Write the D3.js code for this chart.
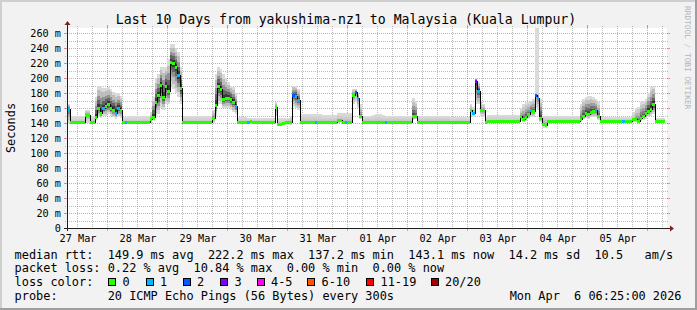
<!DOCTYPE html>
<html><head><meta charset="utf-8">
<script src="https://cdn.jsdelivr.net/npm/d3@7"></script>
<style>
html,body{margin:0;padding:0;background:#f2f2f2;overflow:hidden;}
svg{display:block;}
text{font-family:"DejaVu Sans Mono",monospace;white-space:pre;}
</style></head><body>
<svg id="c" width="697" height="310"></svg>
<script>
// ---------- data (1 value per hour, 240 hours, starting 27 Mar 08:00) ----------
const medianRtt = [
 159,141.5,141.5,141.5,141.5,141.5,141.5,151,151,141.5,141.5,148,160,153,160,163,165,160,158,154,160,158,141.5,141.5,
 141.5,141.5,141.5,141.5,141.5,141.5,141.5,141.5,141.5,146,148,168,177,191,175,190,183,222,220,215,204,187,141.5,141.5,
 141.5,141.5,141.5,141.5,141.5,141.5,141.5,141.5,141.5,141.5,147,164,189,185,172,174,174,172,168,163,141.5,141.5,141.5,141.5,
 141.5,143,141.5,141.5,141.5,140.8,140.8,140.8,140.8,140.8,140.8,161,138.7,138.7,140,141,142,142,177,176,171,142,142,142,
 142,142,142,142,142,142,142,142,142,142,142,142,143.5,143.5,142,142,142,142,177,181,173,150,142,142,
 142,142,142,142,142,142,142,142,142,142,142,142,142,142,142,142,142,142,149,150,142,142,142,142,
 142,142,142,142,142,142,142,142,142,142,142,142,142,142,142,142,142,157,154,196,183,157,157,142,
 143,143,143,143,143,143,143,143,143,143,143,143,143,149,146,148,152,158,156,178,174,147,138.5,137.2,
 143,143,143,143,143,143,143,143,143,143,143,143,143,146,150,153,152,155,156,157,150,143,143,143,
 143,143,143,143,143,143,143,143,143,143,145,145,143,147,149,153,156,159,165,143,143,143,143.1,null
];
const smokeHi = [
 165,149,149,149,149,149,149,157,157,150,150,175,190,190,187,187,188,186,182,180,180,176,148,148,
 149,149,149,149,149,149,149,149,149,155,175,200,205,215,215,215,225,245,245,240,235,215,150,150,
 150,150,150,150,150,150,150,150,150,150,158,205,215,212,205,200,195,190,188,180,148,148,148,148,
 147,147,147,147,147,147,147,147,147,147,147,168,147,147,147,147,147,150,190,190,185,152,152,152,
 152,152,152,152,152,152,151,151,151,151,151,151,153,153,153,153,153,153,186,186,180,165,150,150,
 150,150,151,152,152,152,151,150,150,150,150,150,150,150,150,150,150,150,173,170,150,150,150,150,
 150,150,150,150,150,150,150,150,150,148,148,148,148,148,148,148,148,165,162,200,195,170,165,148,
 151,151,151,151,151,151,151,151,151,151,151,151,151,160,165,168,168,170,172,180,180,172,150,150,
 149,149,149,149,149,149,149,149,149,149,149,149,149,165,172,175,176,176,175,172,168,148,148,148,
 148,148,148,148,148,148,148,148,148,148,155,160,162,168,170,172,180,188,190,147,147,147,147,null
];
const smokeLo = [
 140,140,140,140,140,140,140,140,140,140,140,144,148,147,150,150,152,150,148,146,148,147,140,140,
 140,140,140,140,140,140,140,140,140,140,143,150,152,160,158,165,165,190,185,180,175,165,140,140,
 140,140,140,140,140,140,140,140,140,140,140,150,165,165,160,160,160,158,155,152,139.5,139.5,139.5,139.5,
 139,139,139,139,139,139,139,139,139,139,139,150,136,136,138,138,138,138,162,160,158,140,140,140,
 140,140,140,140,140,140,140,140,140,140,140,140,140,140,140,140,140,140,165,168,160,145,140,140,
 140,140,140,140,140,140,140,140,140,140,140,140,140,140,140,140,140,140,144,145,140,140,140,140,
 140,140,140,140,140,140,140,140,140,140,140,140,140,140,140,140,140,150,148,165,165,150,148,140,
 141,141,141,141,141,141,141,141,141,141,141,141,141,143,142,143,145,148,148,160,158,142,134,134,
 141,141,141,141,141,141,141,141,141,141,141,141,141,143,145,147,146,148,148,148,144,141,141,141,
 141,141,141,141,141,141,141,141,141,141,142,142,141,143,144,146,148,150,152,141,141,141,141,null
];
// single outlying pings reaching far above the rest: [hour index, ms]
const spikes = [[187, 275], [188, 275]];
// hours with packet loss: [hour index, lost pings]
const lossEvents = [[0,1],[14,1],[19,1],[20,1],[23,1],[44,1],[67,1],[72,1],[90,2],[91,1],[92,1],[99,1],
  [111,1],[115,2],[116,1],[127,1],[162,1],[163,3],[164,1],[185,1],[187,2],[188,1],[211,1],[222,1]];

const yTickValues = [0,20,40,60,80,100,120,140,160,180,200,220,240,260];
const yTickLabels = ["0","20 m","40 m","60 m","80 m","100 m","120 m","140 m","160 m","180 m","200 m","220 m","240 m","260 m"];
const xTickLabels = ["27 Mar","28 Mar","29 Mar","30 Mar","31 Mar","01 Apr","02 Apr","03 Apr","04 Apr","05 Apr"];

const lossLevels = [0,1,2,3,4,6,11,20];
const lossLabels = ["0","1","2","3","4-5","6-10","11-19","20/20"];
const lossColors = ["#26ff00","#00b8ff","#0059ff","#7e00ff","#ff00ea","#ff5500","#ff0000","#a10000"];

const titleText = "Last 10 Days from yakushima-nz1 to Malaysia (Kuala Lumpur)";
const legendRows = [
  "median rtt:  149.9 ms avg  222.2 ms max  137.2 ms min  143.1 ms now  14.2 ms sd  10.5   am/s",
  "packet loss: 0.22 % avg  10.84 % max  0.00 % min  0.00 % now",
  "loss color:",
  "probe:       20 ICMP Echo Pings (56 Bytes) every 300s"
];
const dateText = "Mon Apr  6 06:25:00 2026";

// ---------- layout ----------
const W = 697, H = 310;
const X0 = 67, X1 = 667, YB = 228, YT = 28;
const t0 = Date.UTC(2026,2,27,8), t1 = Date.UTC(2026,3,6,8);
const HOUR = 3600e3;
const x = d3.scaleUtc().domain([t0, t1]).range([X0, X1]);
const y = d3.scaleLinear().domain([0, 800/3]).range([YB, YT]);

const svg = d3.select("#c");
const C = {back:"#f2f2f2", canvas:"#ffffff", shadeA:"#cfcfcf", shadeB:"#9e9e9e",
  grid:"rgba(143,143,143,0.6)", mgrid:"rgba(222,79,79,0.55)", arrow:"#801f1f", axis:"#1f1f1f"};

svg.append("rect").attr("width", W).attr("height", H).attr("fill", C.back);
// 3D border
svg.append("rect").attr("x",0).attr("y",0).attr("width",W).attr("height",2).attr("fill",C.shadeA);
svg.append("rect").attr("x",0).attr("y",0).attr("width",2).attr("height",H).attr("fill",C.shadeA);
svg.append("rect").attr("x",0).attr("y",H-2).attr("width",W).attr("height",2).attr("fill",C.shadeB);
svg.append("rect").attr("x",W-2).attr("y",0).attr("width",2).attr("height",H).attr("fill",C.shadeB);

svg.append("rect").attr("x",X0).attr("y",YT).attr("width",X1-X0).attr("height",YB-YT).attr("fill",C.canvas);

// ---------- grid ----------
const g = svg.append("g").attr("shape-rendering","crispEdges");
const yMinor = d3.range(0, 266, 10).filter(v => !yTickValues.includes(v));
yMinor.forEach(v => {
  const yy = Math.round(y(v)) + 0.5;
  g.append("line").attr("x1",X0-2).attr("x2",X1+2).attr("y1",yy).attr("y2",yy)
    .attr("stroke",C.grid).attr("stroke-dasharray","1,1");
});
yTickValues.forEach(v => {
  const yy = Math.round(y(v)) + 0.5;
  if (v > 0) g.append("line").attr("x1",X0-2).attr("x2",X1+2).attr("y1",yy).attr("y2",yy)
    .attr("stroke",C.mgrid).attr("stroke-dasharray","1,1");
  g.append("line").attr("x1",X0-3).attr("x2",X0).attr("y1",yy).attr("y2",yy).attr("stroke",C.mgrid);
  g.append("line").attr("x1",X1).attr("x2",X1+3).attr("y1",yy).attr("y2",yy).attr("stroke",C.mgrid);
});
const xMinor = d3.utcHour.every(6).range(t0, t1 + 1).filter(d => d.getUTCHours() !== 0);
const xMajor = d3.utcDay.range(t0, t1 + 1);
xMinor.forEach(d => {
  const xx = Math.round(x(d)) + 0.5;
  if (xx <= X0 + 1) return;
  g.append("line").attr("x1",xx).attr("x2",xx).attr("y1",YT-2).attr("y2",YB+2)
    .attr("stroke",C.grid).attr("stroke-dasharray","1,1");
});
xMajor.forEach(d => {
  const xx = Math.round(x(d)) + 0.5;
  g.append("line").attr("x1",xx).attr("x2",xx).attr("y1",YT-2).attr("y2",YB+2)
    .attr("stroke",C.mgrid).attr("stroke-dasharray","1,1");
  g.append("line").attr("x1",xx).attr("x2",xx).attr("y1",YB).attr("y2",YB+3).attr("stroke",C.mgrid);
  g.append("line").attr("x1",xx).attr("x2",xx).attr("y1",YT-3).attr("y2",YT).attr("stroke",C.mgrid);
});

// ---------- smoke ----------
svg.append("clipPath").attr("id","pc").append("rect")
  .attr("x",X0).attr("y",YT).attr("width",X1-X0).attr("height",YB-YT);
const sm = svg.append("g").attr("clip-path","url(#pc)").attr("shape-rendering","crispEdges");
const outerGrey = "#dadada";
const bands = [
  {f:0.8, c:"#bdbdbd"}, {f:0.55, c:"#929292"},
  {f:0.35, c:"#646464"}, {f:0.17, c:"#383838"}
];
const spikeMap = new Map(spikes);
const bx = j => Math.round(x(t0 + j*HOUR));
medianRtt.forEach((m, j) => {
  if (m == null) return;
  const xa = bx(j), xb = bx(j+1), hi = smokeHi[j], lo = smokeLo[j];
  const top0 = spikeMap.has(j) ? spikeMap.get(j) : hi;
  sm.append("rect").attr("x",xa).attr("width",xb-xa)
    .attr("y",y(top0)).attr("height",y(lo)-y(top0)).attr("fill",outerGrey);
  // spread of the ping cloud controls how dark its core is
  const k = Math.max(0.12, Math.min(1, (hi - lo - 9) / 22));
  bands.forEach(b => {
    const top = m + b.f*(hi-m), bot = m - b.f*(m-lo);
    sm.append("rect").attr("x",xa).attr("width",xb-xa)
      .attr("y",y(top)).attr("height",Math.max(0,y(bot)-y(top)))
      .attr("fill", d3.interpolateRgb(outerGrey, b.c)(k));
  });
});

// ---------- median line ----------
const pts = medianRtt.map((m,j) => ({t:t0+j*HOUR, v:m}));
pts[pts.length-1] = {t:t0+(medianRtt.length-1)*HOUR, v:medianRtt[medianRtt.length-2]};
const line = d3.line().defined(d => d.v != null).x(d => Math.round(x(d.t))).y(d => Math.round(y(d.v))+0.5)
  .curve(d3.curveStepAfter);
sm.append("path").datum(pts).attr("d", line).attr("fill","none").attr("stroke","#000").attr("stroke-width",1);

const lossMap = new Map(lossEvents);
const lossColor = n => { let i = 0; lossLevels.forEach((l,k) => { if (n >= l) i = k; }); return lossColors[i]; };
medianRtt.forEach((m, j) => {
  if (m == null) return;
  const xa = bx(j), xb = bx(j+1);
  sm.append("rect").attr("x",xa).attr("width",xb-xa).attr("y",Math.round(y(m))-1).attr("height",2.5)
    .attr("fill", lossColor(lossMap.get(j) || 0));
});

// ---------- axes ----------
const ax = svg.append("g").attr("shape-rendering","crispEdges");
ax.append("line").attr("x1",X0-3).attr("x2",X1+4).attr("y1",YB+0.5).attr("y2",YB+0.5).attr("stroke",C.axis);
ax.append("line").attr("x1",X0+0.5).attr("x2",X0+0.5).attr("y1",YB+3).attr("y2",YT-4).attr("stroke",C.axis);
svg.append("path").attr("d",`M${X1+3},${YB-2.5}L${X1+7},${YB+0.5}L${X1+3},${YB+3.5}Z`).attr("fill",C.arrow);
svg.append("path").attr("d",`M${X0-2.5},${YT-3}L${X0+0.5},${YT-7}L${X0+3.5},${YT-3}Z`).attr("fill",C.arrow);

// ---------- text ----------
svg.append("text").attr("x",346).attr("y",23.5).attr("text-anchor","middle")
  .attr("font-size","13.2px").attr("fill","#000").text(titleText);
yTickValues.forEach((v,i) => {
  svg.append("text").attr("x",61).attr("y",Math.round(y(v))+4).attr("text-anchor","end")
    .attr("font-size","10.2px").text(yTickLabels[i]);
});
const noon = d3.utcHour.range(t0, t1).filter(d => d.getUTCHours() === 12);
noon.forEach((d,i) => {
  svg.append("text").attr("x",x(d)+1).attr("y",241.5).attr("text-anchor","middle")
    .attr("font-size","10.2px").text(xTickLabels[i]);
});
svg.append("text").attr("transform","translate(15.3,128) rotate(-90)").attr("text-anchor","middle")
  .attr("font-size","11.9px").text("Seconds");
svg.append("text").attr("transform","translate(684.5,6) rotate(90)").attr("text-anchor","start")
  .attr("font-size","7.8px").attr("fill","#b4b4b4").text("RRDTOOL / TOBI OETIKER");

const rowY = [258.5, 272, 285.5, 299.5];
legendRows.forEach((r,i) => {
  svg.append("text").attr("x",14.6).attr("y",rowY[i]).attr("font-size","11.9px").text(r);
});
svg.append("text").attr("x",681.5).attr("y",rowY[3]).attr("text-anchor","end").attr("font-size","11.9px").text(dateText);
const boxX = [108, 145.5, 182.5, 220, 256.5, 307, 366, 430.5];
lossLabels.forEach((l,i) => {
  svg.append("rect").attr("x",boxX[i]+0.5).attr("y",278.5).attr("width",7).attr("height",7)
    .attr("fill",lossColors[i]).attr("stroke","#000").attr("shape-rendering","crispEdges");
  svg.append("text").attr("x",boxX[i]+14.5).attr("y",rowY[2]).attr("font-size","11.9px").text(l);
});
</script>
</body></html>
